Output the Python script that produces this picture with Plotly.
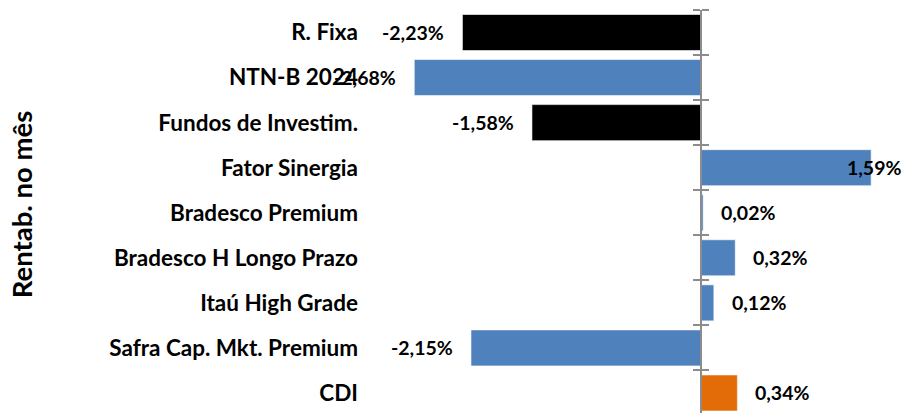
import plotly.graph_objects as go

categories = ["R. Fixa", "NTN-B 2024", "Fundos de Investim.", "Fator Sinergia",
              "Bradesco Premium", "Bradesco H Longo Prazo", "Itaú High Grade",
              "Safra Cap. Mkt. Premium", "CDI"]
values = [-2.23, -2.68, -1.58, 1.59, 0.02, 0.32, 0.12, -2.15, 0.34]
bar_colors = ["#000000", "#4F81BD", "#000000", "#4F81BD", "#4F81BD",
              "#4F81BD", "#4F81BD", "#4F81BD", "#E36C09"]
axis_title = "Rentab. no mês"

FONT = "Lato"
BODY = 8  # page body margin offset
W, H = 910 - BODY, 413 - BODY
ML, MT, MB, MR = 363 - BODY, 9.5 - BODY, 0, 0
XR = [-3.159, 1.953]
n = len(categories)
YR = [n - 0.5 - 2.5 / 45.1, -0.5]

idx = list(range(n))
fig = go.Figure()
fig.add_trace(go.Bar(
    y=idx, x=values, orientation="h", width=0.8,
    marker=dict(color=bar_colors, line=dict(color="rgba(255,255,255,0.6)", width=1)),
    showlegend=False, hoverinfo="skip"))

# invisible traces to carry the zero axis lines
fig.add_trace(go.Scatter(x=[None], y=[None], yaxis="y2", showlegend=False))
fig.add_trace(go.Scatter(x=[None], y=[None], yaxis="y3", showlegend=False))

def fmt(v):
    return f"{v:.2f}".replace(".", ",") + "%"

plot_w = W - ML - MR
px_per_unit = plot_w / (XR[1] - XR[0])
annotations = []
for i, v in enumerate(values):
    txt = fmt(v)
    if v < 0:
        annotations.append(dict(x=v, y=i, xref="x", yref="y", text=txt, showarrow=False,
                                xanchor="right", xshift=-16))
    else:
        end_px = (v - XR[0]) * px_per_unit + 16 + 60
        if end_px > plot_w:
            annotations.append(dict(x=1, y=i, xref="paper", yref="y", text=txt, showarrow=False,
                                    xanchor="right", xshift=-7))
        else:
            annotations.append(dict(x=v, y=i, xref="x", yref="y", text=txt, showarrow=False,
                                    xanchor="left", xshift=16))
for a in annotations:
    a["font"] = dict(family=FONT, size=19.5, color="#000000", weight="bold")

plot_h = H - MT - MB
annotations.append(dict(x=(21 - 363) / plot_w, y=(413 - 204) / plot_h, xref="paper", yref="paper",
                        xanchor="center", yanchor="middle",
                        text=axis_title, textangle=-90, showarrow=False,
                        font=dict(family=FONT, size=27.5, color="#000000", weight="bold")))

zero_pos = (0 - XR[0]) / (XR[1] - XR[0])
boundaries = [i - 0.5 for i in range(n + 1)]
common_ax = dict(overlaying="y", anchor="free", position=zero_pos, range=YR,
                 tickmode="array", tickvals=boundaries, showticklabels=False,
                 showline=True, linecolor="#8C8C8C", linewidth=2, ticks="outside",
                 ticklen=7, tickwidth=2, tickcolor="#8C8C8C", showgrid=False, zeroline=False)

fig.update_layout(
    width=W, height=H,
    margin=dict(l=ML, r=MR, t=MT, b=MB),
    plot_bgcolor="white", paper_bgcolor="white",
    xaxis=dict(range=XR, visible=False, fixedrange=True),
    yaxis=dict(range=YR, tickmode="array", tickvals=idx, ticktext=categories,
               showline=False, showgrid=False, zeroline=False, ticks="",
               ticklabelstandoff=4,
               tickfont=dict(family=FONT, size=22.5, color="#000000", weight="bold")),
    yaxis2=dict(side="left", **common_ax),
    yaxis3=dict(side="right", **common_ax),
    annotations=annotations,
    bargap=0.2,
)

fig.write_html("out.html")
